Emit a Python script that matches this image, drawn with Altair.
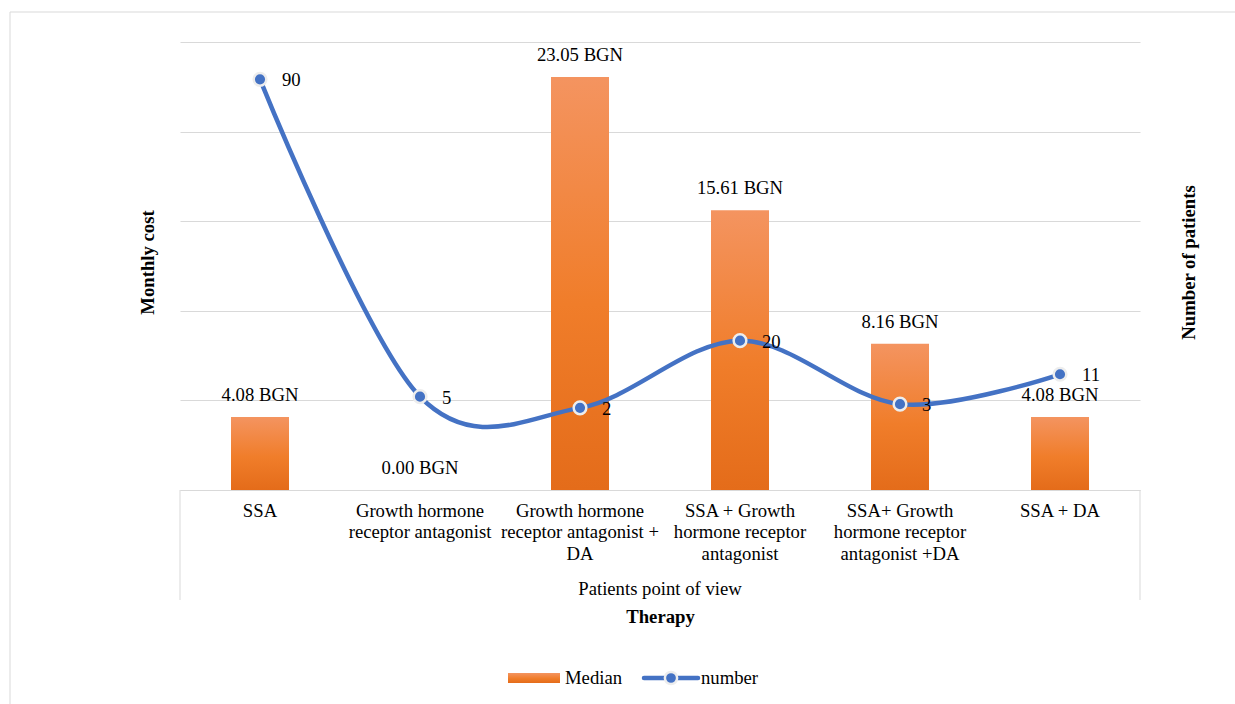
import altair as alt
import pandas as pd

# Therapy groups (line breaks are kept for the axis labels)
therapies = [
    "SSA",
    "Growth hormone\nreceptor antagonist",
    "Growth hormone\nreceptor antagonist +\nDA",
    "SSA + Growth\nhormone receptor\nantagonist",
    "SSA+ Growth\nhormone receptor\nantagonist +DA",
    "SSA + DA",
]
median_cost = [4.08, 0.00, 23.05, 15.61, 8.16, 4.08]
patients = [90, 5, 2, 20, 3, 11]
series_names = ["Median", "number"]
group_label = "Patients point of view"

FONT = "Liberation Serif"
FS = 18.7
INK = "#000000"
BLUE = "#4472C4"
GRID = "#D9D9D9"
W, H = 960, 448

orange = alt.Gradient(
    gradient="linear",
    stops=[
        alt.GradientStop(color="#F49460", offset=0),
        alt.GradientStop(color="#F07D2A", offset=0.55),
        alt.GradientStop(color="#E46C1A", offset=1),
    ],
    x1=0, x2=0, y1=0, y2=1,
)

df = pd.DataFrame({"therapy": therapies, "median": median_cost, "patients": patients})
df["cost_label"] = [f"{v:.2f} BGN" for v in median_cost]
one = pd.DataFrame({"k": [0]})

band = alt.Scale(paddingInner=0.6375, paddingOuter=0.31875)

x_axis = alt.Axis(
    title="Therapy", titleFont=FONT, titleFontSize=FS, titleFontWeight="bold",
    titleColor=INK, titleY=126, titleBaseline="middle",
    labelAngle=0, labelExpr="split(datum.label, '\\n')", labelFont=FONT,
    labelFontSize=FS, labelColor=INK, labelLineHeight=21.5, labelPadding=11,
    labelBaseline="top", labelLimit=400, labelOverlap=False,
    ticks=False, domain=True, domainColor=GRID, grid=False,
)
x_main = alt.X("therapy:N", sort=therapies, scale=band, axis=x_axis)
x_plain = alt.X("therapy:N", sort=therapies, scale=band)

cost_scale = alt.Scale(domain=[0, 25])
count_scale = alt.Scale(domain=[-20, 100])

left_axis = alt.Axis(
    labels=False, ticks=False, domain=False, grid=True, gridColor=GRID,
    values=[0, 5, 10, 15, 20, 25], title="Monthly cost", titleFont=FONT,
    titleFontSize=FS, titleFontWeight="bold", titleColor=INK, titleAngle=270,
    titleX=-33, titleY=H / 2 - 4, titleAlign="center", titleBaseline="middle",
)
right_axis = alt.Axis(
    orient="right", labels=False, ticks=False, domain=False, grid=False,
    title="Number of patients", titleFont=FONT, titleFontSize=FS,
    titleFontWeight="bold", titleColor=INK, titleAngle=270, titleX=48,
    titleY=H / 2 - 4, titleAlign="center", titleBaseline="middle",
)

# chart-area frame
frame = alt.Chart(one).mark_rect(fillOpacity=0, stroke=GRID, strokeWidth=1).encode(
    x=alt.value(-170), x2=alt.value(1100), y=alt.value(-30), y2=alt.value(720)
)

bars = alt.Chart(df).mark_bar(color=orange).encode(
    x=x_main,
    y=alt.Y("median:Q", scale=cost_scale, axis=left_axis),
)

bar_text = alt.Chart(df).mark_text(
    dy=-22, baseline="middle", font=FONT, fontSize=FS, color=INK
).encode(
    x=x_plain,
    y=alt.Y("median:Q", scale=cost_scale),
    text="cost_label:N",
)

# outer edges of the category axis box
edge_l = alt.Chart(one).mark_rule(color=GRID, strokeWidth=1).encode(
    x=alt.value(0), y=alt.value(H), y2=alt.value(H + 110)
)
edge_r = alt.Chart(one).mark_rule(color=GRID, strokeWidth=1).encode(
    x=alt.value(W), y=alt.value(H), y2=alt.value(H + 110)
)
group_text = alt.Chart(one).mark_text(
    baseline="middle", align="center", font=FONT, fontSize=FS, color=INK
).encode(x=alt.value(W / 2), y=alt.value(H + 99), text=alt.value(group_label))

# legend
leg_y = 636
leg_rect = alt.Chart(one).mark_rect(color=orange).encode(
    x=alt.value(328), x2=alt.value(380), y=alt.value(leg_y - 5), y2=alt.value(leg_y + 5)
)
leg_t1 = alt.Chart(one).mark_text(
    align="left", baseline="middle", font=FONT, fontSize=FS, color=INK
).encode(x=alt.value(385), y=alt.value(leg_y), text=alt.value(series_names[0]))
leg_line = alt.Chart(one).mark_rule(color=BLUE, strokeWidth=4.5, strokeCap="round").encode(
    x=alt.value(464), x2=alt.value(518), y=alt.value(leg_y)
)
leg_dot = alt.Chart(one).mark_circle(
    size=150, color=BLUE, opacity=1, stroke="#EDEDED", strokeWidth=2.5
).encode(x=alt.value(491), y=alt.value(leg_y))
leg_t2 = alt.Chart(one).mark_text(
    align="left", baseline="middle", font=FONT, fontSize=FS, color=INK
).encode(x=alt.value(521), y=alt.value(leg_y), text=alt.value(series_names[1]))

line = alt.Chart(df).mark_line(
    color=BLUE, strokeWidth=4.5, interpolate="cardinal"
).encode(
    x=x_plain,
    y=alt.Y("patients:Q", scale=count_scale, axis=right_axis),
)
dots = alt.Chart(df).mark_circle(
    size=160, color=BLUE, opacity=1, stroke="#EDEDED", strokeWidth=2.5
).encode(x=x_plain, y=alt.Y("patients:Q", scale=count_scale))
dot_text = alt.Chart(df).mark_text(
    align="left", baseline="middle", dx=22, dy=1, font=FONT, fontSize=FS, color=INK
).encode(
    x=x_plain,
    y=alt.Y("patients:Q", scale=count_scale),
    text="patients:Q",
)

cost_group = alt.layer(
    frame, bars, bar_text, edge_l, edge_r, group_text,
    leg_rect, leg_t1, leg_line, leg_dot, leg_t2,
)
count_group = alt.layer(line, dots, dot_text)

chart = (
    alt.layer(cost_group, count_group)
    .resolve_scale(y="independent")
    .properties(
        width=W,
        height=H,
        autosize=alt.AutoSizeParams(type="none"),
        padding={"left": 180, "top": 42, "right": 95, "bottom": 214},
        background="white",
    )
    .configure_view(strokeWidth=0)
)

chart.save("out.html", embed_options={"renderer": "svg", "actions": False})
